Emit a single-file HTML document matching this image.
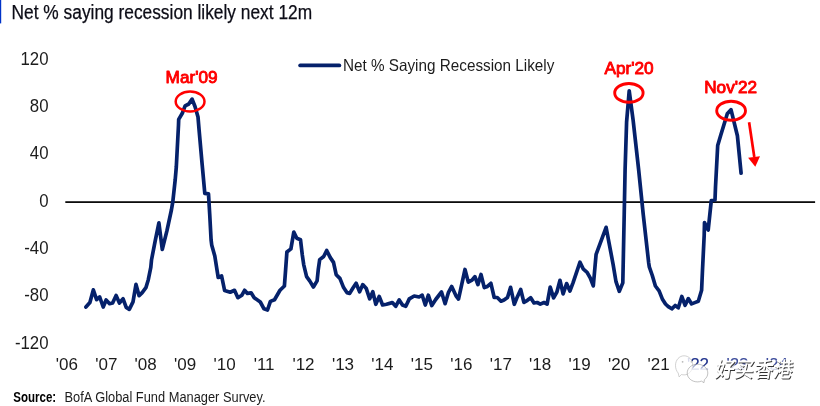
<!DOCTYPE html>
<html>
<head>
<meta charset="utf-8">
<title>Net % saying recession likely next 12m</title>
<style>
html,body{margin:0;padding:0;background:#fff;}
body{width:820px;height:406px;overflow:hidden;position:relative;font-family:"Liberation Sans","Noto Sans CJK SC",sans-serif;}
svg{position:absolute;left:0;top:0;display:block;}
.lbl{font-family:"Liberation Sans",sans-serif;font-size:17px;fill:#1c1c1c;}
.red{font-family:"Liberation Sans",sans-serif;font-size:17.2px;fill:#ff0000;stroke:#ff0000;stroke-width:0.9px;stroke-linejoin:round;}
</style>
</head>
<body>
<svg width="820" height="406" viewBox="0 0 820 406">
  <rect x="0" y="0" width="820" height="406" fill="#ffffff"/>
  <!-- title accent bar -->
  <rect x="0" y="0" width="1.2" height="23.4" fill="#0033c8"/>
  <!-- title -->
  <text x="11.6" y="19.1" font-family="Liberation Sans, sans-serif" font-size="20" fill="#0c0c16" stroke="#0c0c16" stroke-width="0.25" textLength="300.5" lengthAdjust="spacingAndGlyphs">Net % saying recession likely next 12m</text>

  <!-- y axis labels -->
  <g class="lbl" text-anchor="end" transform="translate(48.5,0) scale(0.955,1)" style="font-size:17.6px">
    <text x="0" y="65">120</text>
    <text x="0" y="112.2">80</text>
    <text x="0" y="159.5">40</text>
    <text x="0" y="206.9">0</text>
    <text x="0" y="254.2">-40</text>
    <text x="0" y="301.4">-80</text>
    <text x="0" y="348.7">-120</text>
  </g>

  <!-- zero line -->
  <rect x="65.3" y="201.25" width="749.8" height="1.7" fill="#000"/>

  <!-- x axis labels -->
  <g class="lbl" text-anchor="middle">
    <text x="66.8" y="369.8">'06</text>
    <text x="106.3" y="369.8">'07</text>
    <text x="145.7" y="369.8">'08</text>
    <text x="185.2" y="369.8">'09</text>
    <text x="224.6" y="369.8">'10</text>
    <text x="264.1" y="369.8">'11</text>
    <text x="303.5" y="369.8">'12</text>
    <text x="343.0" y="369.8">'13</text>
    <text x="382.4" y="369.8">'14</text>
    <text x="421.9" y="369.8">'15</text>
    <text x="461.3" y="369.8">'16</text>
    <text x="500.8" y="369.8">'17</text>
    <text x="540.2" y="369.8">'18</text>
    <text x="579.7" y="369.8">'19</text>
    <text x="619.1" y="369.8">'20</text>
    <text x="658.6" y="369.8">'21</text>
  </g>

  <defs>
    <clipPath id="cTop22"><rect x="680" y="350" width="40" height="18.6"/></clipPath>
    <clipPath id="cTop2x"><rect x="720" y="350" width="90" height="15.2"/></clipPath>
  </defs>
  <g class="lbl" text-anchor="middle" style="fill:#24368f">
    <text x="698.0" y="369.8" fill-opacity="0.3">'22</text>
    <text x="698.0" y="369.8" clip-path="url(#cTop22)">'22</text>
    <text x="737.5" y="369.8" fill-opacity="0.22">'23</text>
    <text x="737.5" y="369.8" clip-path="url(#cTop2x)" fill-opacity="0.85">'23</text>
    <text x="776.9" y="369.8" fill-opacity="0.22">'24</text>
    <text x="776.9" y="369.8" clip-path="url(#cTop2x)" fill-opacity="0.85">'24</text>
  </g>

  <!-- legend -->
  <line x1="300.2" y1="65.4" x2="339.3" y2="65.4" stroke="#05216b" stroke-width="3.9" stroke-linecap="round"/>
  <text x="342.9" y="71.2" font-family="Liberation Sans, sans-serif" font-size="16.5" fill="#1c1c1c" textLength="211.5" lengthAdjust="spacingAndGlyphs">Net % Saying Recession Likely</text>

  <!-- data line -->
  <polyline id="series" fill="none" stroke="#05216b" stroke-width="3.7" stroke-linejoin="round" stroke-linecap="round" points="
85.9,307 89.9,302.5 93.3,289.9 96.6,299.7 99.7,297 103.2,307 106.1,300 109.6,303.7 112.6,303 116.1,295.5 119.4,303 123.1,298.8 126.2,307.4 129.3,309.3 133,301.9 136,284.4 139.1,295.7 142.2,292.6 145.9,287.7 148.3,279.7 150.8,267.4 151.5,260
155.2,240.8 158.9,222.9 162.3,249.4 166.9,230.9 171.4,210 172.8,201.9 175.2,179.8 176.3,167 178.5,125 178.7,119.4 182.3,113.3 185.1,105.9 188.8,104 192.1,99.1 195,106.5 198,117 199,129 202.2,165 204.8,193.3 208.5,193.9 209.7,214 211.1,240 211.7,244.9 214.8,256 218.2,277.5 221.6,276 224.6,290.5
230.2,292.2 234.5,290.3 237.9,297.7 241.9,295.2 244.6,290.3 247.4,293.4 251.1,292.8 254.2,297.7 260.3,302 264,308.8 267.5,310 270.4,301.4 274.5,299.8 280,290.3 284.4,286 285.6,270 286.9,252 290.9,248.9 293.8,232.1 296.8,238.2 300.5,239.7 302.3,255 303.7,264.6 306.6,276.6 309.7,280.9 313.4,287 317.1,280.9 318.3,269.3 319.7,259.6 323.7,256.5 326.7,250.5 330.3,257.6 333.5,262.4 336.2,274.7 339.9,278.4 343.6,287.6 346.9,292.6 349.7,293.4 352.8,288.3 356.1,283.3 359.6,291.9 362.7,284.6 366.3,288.6 369.7,298.8 372.8,291.7 375.8,304.3 379.2,296.4 382.6,305 386.5,304.2 392.3,302.6 395.7,306.3 399.2,299.9 402.5,305 405.8,306.3 409.3,298.9 414.2,296 419.1,297 422.2,295.2 425.3,305 428.3,295.2 431.8,305.6 435.7,299.5 441.5,292 445.1,303.7 448.5,292.3 451.7,286.5 456,295.8 458.5,299.1 465,269.5 468.3,282.1 472,280.2 474.9,276.6 477.9,284.6 481,274.5 484.3,287.6 487.4,286.4 490.9,283.3 494.2,297.5 497.3,297.5 501,301.2 504,300 507.5,297.5 510.6,287.3 514.3,304.3 517.3,296.9 520.7,289.5 523.9,302.4 527.4,300.3 530.7,297.8 534,303 537.2,302.5 540.3,304.1 544,302.5 547.1,304.1 550.2,287.1 553.6,297.9 556.9,292 560,280.3 563.1,293.9 566.6,283.6 569.9,291 573,282.8 580,262.2 583.4,269.2 587.1,272.3 590.2,277.9 593.3,285.9 595.2,264.3 596.1,254.4 606.1,227.3 613.1,264.3 616,281.7 619.3,291.3 622.8,282.9 623.2,264 624.2,215 625.1,169.3 626.6,122 629.2,90.8 633.1,120 638.6,169.3 643.3,215 648.7,263 649.3,266.9 652.3,275.5 655.4,286 659.1,290.9 662.3,298.9 665.5,304 668.3,306.6 671.8,308.8 675.2,305.5 678.3,307.8 681.8,296.5 685.1,305.3 688.3,298.6 691.6,303.9 695.4,302.4 698.3,301.3 701.6,290.3 702.5,270 704.2,235 704.5,222.6 708.2,230 711.3,200.5 715,199.9 715.5,187 717.7,145.5 720.8,135 727.3,113.8 731,109.6 737.4,135.8 741.1,173.2"/>

  <!-- annotations -->
  <g fill="none" stroke="#ff0000" stroke-width="2.3">
    <ellipse cx="190.1" cy="101.5" rx="14.4" ry="9.9" stroke-width="2.5"/>
    <ellipse cx="628.9" cy="92.9" rx="14.2" ry="9.4" stroke-width="2.9"/>
    <ellipse cx="731.1" cy="110.7" rx="14.4" ry="9.5" stroke-width="2.9"/>
    <line x1="749.1" y1="122.3" x2="754.3" y2="157" stroke-width="2.7"/>
  </g>
  <polygon points="748.1,157.8 760,156.2 755.3,166.8" fill="#ff0000"/>
  <g class="red" text-anchor="middle">
    <text x="191.6" y="82.8">Mar'09</text>
    <text x="629" y="74.2">Apr'20</text>
    <text x="730.7" y="92.7">Nov'22</text>
  </g>

  <!-- source -->
  <text x="13.3" y="401.7" font-family="Liberation Sans, sans-serif" font-size="14" font-weight="bold" fill="#000" textLength="42.8" lengthAdjust="spacingAndGlyphs">Source:</text>
  <text x="64.5" y="401.7" font-family="Liberation Sans, sans-serif" font-size="14" fill="#1c1c1c" textLength="201" lengthAdjust="spacingAndGlyphs">BofA Global Fund Manager Survey.</text>

  <!-- watermark -->
  <g>
    <g fill="#ffffff" fill-opacity="0.82" stroke="#a8a8a8" stroke-width="0.7" stroke-opacity="0.75">
      <path d="M684.1,355.8 c4.8,0 8.6,4.2 8.6,9.5 c0,5.3 -3.8,9.6 -8.6,9.6 c-0.9,0 -1.8,-0.2 -2.6,-0.4 l-2.4,2.4 l-0.9,-3.9 c-1.7,-1.8 -2.7,-4.6 -2.7,-7.7 c0,-5.3 3.8,-9.5 8.6,-9.5 z"/>
      <path d="M697.5,364.2 c5.7,0 10.3,4 10.3,8.9 c0,2.6 -1.3,5 -3.4,6.6 l-0.4,3 l-2.6,-1.6 c-1.2,0.5 -2.5,0.8 -3.9,0.8 c-5.7,0 -10.3,-4 -10.3,-8.9 c0,-4.9 4.6,-8.8 10.3,-8.8 z" stroke="#8a8a8a" fill-opacity="0.6"/>
    </g>
    <circle cx="682.6" cy="361.8" r="0.9" fill="#9a9a9a" fill-opacity="0.7"/>
    <circle cx="691.4" cy="361.8" r="0.9" fill="#9a9a9a" fill-opacity="0.5"/>
    <g transform="translate(714.4,377.3) skewX(-8)">
      <text x="0" y="0" font-family="Noto Sans CJK SC, WenQuanYi Zen Hei, sans-serif" font-size="21" font-weight="500" fill="#ffffff" style="text-shadow:1px 1px 0.4px #333;" textLength="77.6" lengthAdjust="spacingAndGlyphs">好买香港</text>
    </g>
  </g>
</svg>
</body>
</html>
